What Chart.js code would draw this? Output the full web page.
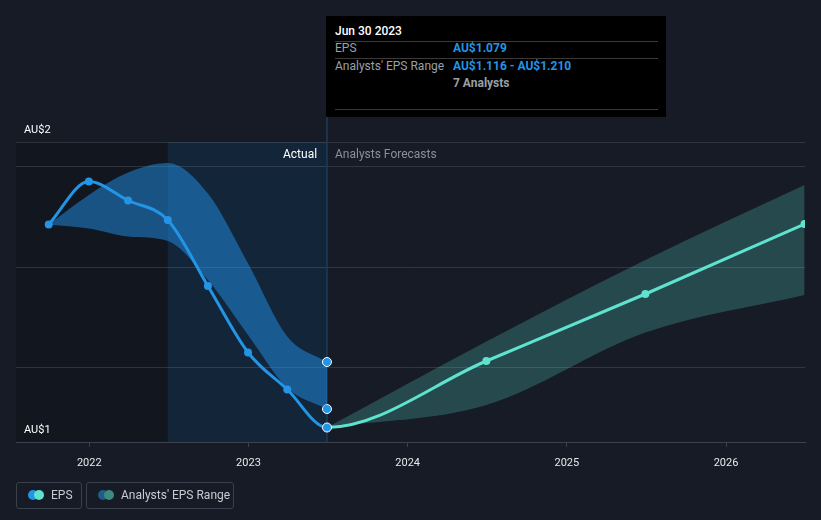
<!DOCTYPE html>
<html>
<head>
<meta charset="utf-8">
<script src="https://cdn.jsdelivr.net/npm/chart.js@4.4.1/dist/chart.umd.min.js"></script>
<style>
  html, body { margin: 0; padding: 0; background: #161b26; }
  body { width: 821px; height: 520px; position: relative; overflow: hidden; font-family: Roboto, "Noto Sans", sans-serif; }
  #grafico { position: absolute; left: 0; top: 0; }
  .tip { position: absolute; left: 326px; top: 16px; width: 340px; height: 101px; background: #000; }
  .tip .t { position: absolute; left: 9px; font-size: 12px; line-height: 14px; }
  .tip .sep { position: absolute; left: 9px; width: 323px; height: 1px; background: #3a3a3a; }
  .lbl { color: #9aa0a8; }
  .val { color: #2394e6; font-weight: bold; left: 127px !important; }
  .marker { position: absolute; top: 147px; font-size: 12px; line-height: 14px; }
  .legend { position: absolute; top: 482px; height: 25px; border: 1px solid #3a404b; border-radius: 3px; color: #c8ccd2; font-size: 12px; line-height: 25px; }
  .legend .dot { position: absolute; top: 7px; width: 10px; height: 10px; border-radius: 50%; }
</style>
</head>
<body>
<canvas id="grafico" width="821" height="520"></canvas>

<div class="tip">
  <div class="t" style="top:8px;color:#fff;font-weight:500;">Jun 30 2023</div>
  <div class="sep" style="top:25px;"></div>
  <div class="t lbl" style="top:25px;">EPS</div>
  <div class="t val" style="top:25px;">AU$1.079</div>
  <div class="sep" style="top:42px;"></div>
  <div class="t lbl" style="top:43px;">Analysts' EPS Range</div>
  <div class="t val" style="top:43px;">AU$1.116 - AU$1.210</div>
  <div class="t val" style="top:60px;color:#9aa0a8;">7 Analysts</div>
  <div class="sep" style="top:93px;"></div>
</div>

<div class="marker" style="left:283px;color:#fff;">Actual</div>
<div class="marker" style="left:335px;color:#8a9099;">Analysts Forecasts</div>

<div class="legend" style="left:16px;width:64px;">
  <span class="dot" style="left:11px;background:#2394e6;"></span>
  <span class="dot" style="left:17px;background:#5fe3cf;"></span>
  <span style="position:absolute;left:34px;">EPS</span>
</div>
<div class="legend" style="left:86px;width:146px;">
  <span class="dot" style="left:11px;background:#1f5c88;"></span>
  <span class="dot" style="left:17px;background:#3d8a80;"></span>
  <span style="position:absolute;left:34px;">Analysts' EPS Range</span>
</div>

<script>
// Dados (EPS em AU$)
const epsDates = ['2021-09-30', '2021-12-31', '2022-03-31', '2022-06-30', '2022-09-30', '2022-12-31',
                  '2023-03-31', '2023-06-30', '2024-06-30', '2025-06-30', '2026-06-30'];
const epsValues = [1.485, 1.571, 1.533, 1.494, 1.362, 1.229, 1.155, 1.079, 1.212, 1.346, 1.486];

const pastRangeDates = ['2021-09-30', '2021-12-31', '2022-03-31', '2022-06-30', '2022-09-30', '2022-12-31',
                        '2023-03-31', '2023-06-30'];
const pastRangeHigh = [1.485, 1.544, 1.589, 1.608, 1.547, 1.407, 1.261, 1.210];
const pastRangeLow  = [1.485, 1.477, 1.461, 1.452, 1.374, 1.264, 1.158, 1.116];

const forecastDates = ['2023-06-30', '2024-06-30', '2025-06-30', '2026-06-30'];
const forecastHigh = [1.079, 1.251, 1.414, 1.564];
const forecastLow  = [1.079, 1.124, 1.269, 1.344];

const yearTicks = [2022, 2023, 2024, 2025, 2026];
const yGrid = [1.05, 1.2, 1.4, 1.6, 1.65];
const yLabels = { 1.05: 'AU$1', 1.65: 'AU$2' };

const lastActual = '2023-06-30';
const highlightStart = '2022-06-30';

const blue = '#2394e6';
const teal = '#5fe3cf';

// converte data em ano decimal
function toYear(d) {
  const dt = new Date(d + 'T00:00:00Z');
  const y = dt.getUTCFullYear();
  const start = Date.UTC(y, 0, 1);
  const end = Date.UTC(y + 1, 0, 1);
  return y + (dt.getTime() - start) / (end - start);
}

function pares(datas, valores) {
  return datas.map((d, i) => ({ x: toYear(d), y: valores[i] }));
}

const idxLast = epsDates.indexOf(lastActual);

// fundos (passado escuro, último ano destacado) e linha vertical
const fundos = {
  id: 'fundos',
  beforeDraw(chart) {
    const { ctx, chartArea: a, scales: { x } } = chart;
    const xh = x.getPixelForValue(toYear(highlightStart));
    const xa = x.getPixelForValue(toYear(lastActual));
    ctx.save();
    ctx.fillStyle = '#12161e';
    ctx.fillRect(a.left, a.top, xh - a.left, a.bottom - a.top);
    ctx.fillStyle = '#132538';
    ctx.fillRect(xh, a.top, xa - xh, a.bottom - a.top);
    ctx.restore();
  },
  beforeDatasetsDraw(chart) {
    const { ctx, chartArea: a, scales: { x } } = chart;
    const xa = x.getPixelForValue(toYear(lastActual));
    ctx.save();
    ctx.strokeStyle = '#1d3b5c';
    ctx.lineWidth = 1.5;
    ctx.beginPath();
    ctx.moveTo(xa, 117);
    ctx.lineTo(xa, a.bottom);
    ctx.stroke();
    ctx.restore();
  }
};

const ctx = document.getElementById('grafico').getContext('2d');

const chart = new Chart(ctx, {
  type: 'line',
  data: {
    datasets: [
      {
        label: 'EPS',
        data: pares(epsDates, epsValues),
        borderWidth: 3,
        borderColor: blue,
        segment: { borderColor: c => c.p0DataIndex >= idxLast ? teal : blue },
        cubicInterpolationMode: 'monotone',
        pointRadius: epsValues.map((v, i) => i === idxLast ? 4.5 : 4),
        pointBackgroundColor: epsValues.map((v, i) => i > idxLast ? teal : blue),
        pointBorderColor: epsValues.map((v, i) => i === idxLast ? '#ffffff' : (i > idxLast ? teal : blue)),
        pointBorderWidth: epsValues.map((v, i) => i === idxLast ? 1 : 0),
        fill: false
      },
      {
        label: 'Range high',
        data: pares(pastRangeDates, pastRangeHigh),
        borderWidth: 0,
        borderColor: 'transparent',
        backgroundColor: 'rgba(33,150,243,0.48)',
        cubicInterpolationMode: 'monotone',
        pointRadius: pastRangeHigh.map((v, i) => i === pastRangeHigh.length - 1 ? 4.5 : 0),
        pointBackgroundColor: blue,
        pointBorderColor: '#ffffff',
        pointBorderWidth: 1,
        fill: '+1'
      },
      {
        label: 'Range low',
        data: pares(pastRangeDates, pastRangeLow),
        borderWidth: 0,
        borderColor: 'transparent',
        cubicInterpolationMode: 'monotone',
        pointRadius: pastRangeLow.map((v, i) => i === pastRangeLow.length - 1 ? 4.5 : 0),
        pointBackgroundColor: blue,
        pointBorderColor: '#ffffff',
        pointBorderWidth: 1,
        fill: false
      },
      {
        label: 'Forecast high',
        data: pares(forecastDates, forecastHigh),
        borderWidth: 0,
        borderColor: 'transparent',
        backgroundColor: 'rgba(95,227,207,0.23)',
        cubicInterpolationMode: 'monotone',
        pointRadius: 0,
        fill: '+1'
      },
      {
        label: 'Forecast low',
        data: pares(forecastDates, forecastLow),
        borderWidth: 0,
        borderColor: 'transparent',
        cubicInterpolationMode: 'monotone',
        pointRadius: 0,
        fill: false
      }
    ]
  },
  options: {
    responsive: false,
    animation: false,
    events: [],
    devicePixelRatio: 1,
    layout: { padding: { left: 16, right: 16, top: 142, bottom: 0 } },
    plugins: { legend: { display: false }, tooltip: { enabled: false } },
    scales: {
      x: {
        type: 'linear',
        min: toYear('2021-07-17'),
        max: toYear('2026-07-01'),
        afterBuildTicks: s => { s.ticks = yearTicks.map(v => ({ value: v })); },
        afterFit: s => { s.height = 78; },
        grid: { drawOnChartArea: false, drawTicks: true, tickLength: 5, color: '#3b414d' },
        border: { color: '#3b414d', width: 1 },
        ticks: { color: '#e8e8e8', font: { family: 'Roboto', size: 11 }, padding: 10, callback: v => String(v) }
      },
      y: {
        min: 1.05,
        max: 1.65,
        afterBuildTicks: s => { s.ticks = yGrid.map(v => ({ value: v })); },
        afterFit: s => { s.width = 0; },
        grid: { color: 'rgba(255,255,255,0.12)', drawTicks: false },
        border: { display: false },
        ticks: {
          mirror: true,
          padding: 8,
          labelOffset: -12,
          color: '#ffffff',
          font: { family: 'Roboto', size: 11 },
          callback: v => yLabels[v] || ''
        }
      }
    }
  },
  plugins: [fundos]
});
</script>
</body>
</html>
